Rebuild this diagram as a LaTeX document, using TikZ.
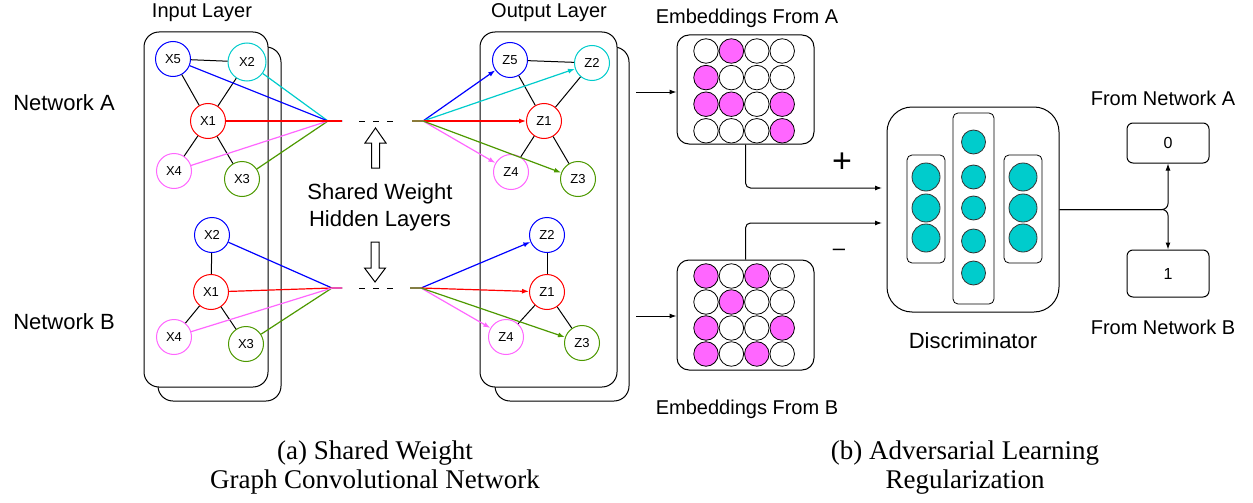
\documentclass[tikz,border=0pt]{standalone}
\usepackage{fontspec}
\setmainfont{Liberation Sans}
\newfontfamily\capfont{Liberation Serif}
\usepackage{xcolor}
\usepackage{tikz}
\usetikzlibrary{arrows.meta,positioning}

\definecolor{cblue}{HTML}{0000FF}
\definecolor{ccyan}{HTML}{00CCCC}
\definecolor{cred}{HTML}{FF0000}
\definecolor{cpink}{HTML}{FF66FF}
\definecolor{cgreen}{HTML}{4D9900}
\definecolor{cteal}{HTML}{00CCCC}

\begin{document}
\begin{tikzpicture}[x=1pt,y=-1pt,line width=1pt,>={Latex[length=7pt,width=5pt]},
  vert/.style={circle,draw,minimum size=35pt,inner sep=0pt,fill=white,font=\fontsize{13}{13}\selectfont},
  layerbox/.style={draw,rounded corners=15pt,fill=white,inner sep=0pt},
  embbox/.style={draw,rounded corners=12pt,fill=white,inner sep=0pt},
  emb/.style={circle,draw,minimum size=24.5pt,inner sep=0pt,line width=0.8pt},
  unit/.style={circle,draw=black!80,fill=cteal,inner sep=0pt,line width=0.8pt},
  colbox/.style={draw,rounded corners=5pt,inner sep=0pt,line width=0.8pt},
  valbox/.style={draw,rounded corners=6pt,inner sep=0pt,minimum width=82pt,font=\fontsize{16}{16}\selectfont},
  wire/.style={line width=1.2pt},
  lbl/.style={font=\fontsize{20}{24}\selectfont},
  big/.style={font=\fontsize{22}{27}\selectfont},
  captext/.style={align=center,font=\capfont\fontsize{27}{29}\selectfont}]
\useasboundingbox (0,0) rectangle (1253,503);

% input and output layers
\node[layerbox,minimum width=123pt,minimum height=354pt] (inback) at (219.5,224) {};
\node[layerbox,minimum width=124pt,minimum height=355pt] (infront) at (206,209.5) {};
\node[layerbox,minimum width=134pt,minimum height=354pt] (outback) at (562,224) {};
\node[layerbox,minimum width=137pt,minimum height=355pt] (outfront) at (548.5,209.5) {};

\node[lbl] (inlbl) at (202,13) {Input Layer};
\node[lbl] (outlbl) at (549,13) {Output Layer};
\node[big] (neta) at (64,103) {Network A};
\node[big] (netb) at (64,322) {Network B};

% network A
\node[vert,draw=cblue] (xa5) at (173,59) {X5};
\node[vert,draw=ccyan,minimum size=38pt] (xa2) at (247,62) {X2};
\node[vert,draw=cred] (xa1) at (208,121) {X1};
\node[vert,draw=cpink] (xa4) at (174,171) {X4};
\node[vert,draw=cgreen] (xa3) at (242,179) {X3};

\node[vert,draw=cblue] (za5) at (510,60) {Z5};
\node[vert,draw=ccyan] (za2) at (592,63) {Z2};
\node[vert,draw=cred] (za1) at (544,121) {Z1};
\node[vert,draw=cpink] (za4) at (511,172) {Z4};
\node[vert,draw=cgreen] (za3) at (578,179) {Z3};

% network B
\node[vert,draw=cblue] (xb2) at (212,235) {X2};
\node[vert,draw=cred] (xb1) at (211,292) {X1};
\node[vert,draw=cpink] (xb4) at (174,337) {X4};
\node[vert,draw=cgreen] (xb3) at (246,344) {X3};

\node[vert,draw=cblue] (zb2) at (547,235) {Z2};
\node[vert,draw=cred] (zb1) at (547,292) {Z1};
\node[vert,draw=cpink] (zb4) at (506,337) {Z4};
\node[vert,draw=cgreen] (zb3) at (582,343) {Z3};

\path (xa5) edge (xa2);
\path (xa5) edge (xa1);
\path (xa2) edge (xa1);
\path (xa1) edge (xa4);
\path (xa1) edge (xa3);
\path (za5) edge (za2);
\path (za5) edge (za1);
\path (za2) edge (za1);
\path (za1) edge (za4);
\path (za1) edge (za3);
\path (xb2) edge (xb1);
\path (xb1) edge (xb4);
\path (xb1) edge (xb3);
\path (zb2) edge (zb1);
\path (zb1) edge (zb4);
\path (zb1) edge (zb3);

% hidden layers
\coordinate (fa) at (328,121);
\coordinate (fa2) at (342,121);
\coordinate (ga) at (412,121);
\coordinate (ga2) at (423,121);
\coordinate (fb) at (332,288);
\coordinate (fb2) at (342,288);
\coordinate (gb) at (410,288);
\coordinate (gb2) at (421,288);

\draw[wire,ccyan] (xa2) -- (fa) -- (fa2);
\draw[wire,cblue] (xa5) -- (fa) -- (fa2);
\draw[wire,cgreen] (xa3) -- (fa) -- (fa2);
\draw[wire,cpink] (xa4) -- (fa) -- (fa2);
\draw[wire,cred] (xa1) -- (fa) -- (fa2);
\draw[wire,cblue] (xb2) -- (fb) -- (fb2);
\draw[wire,cgreen] (xb3) -- (fb) -- (fb2);
\draw[wire,cred] (xb1) -- (fb) -- (fb2);
\draw[wire,cpink] (xb4) -- (fb) -- (fb2);

\draw[wire,->,cblue] (ga) -- (ga2) -- (za5);
\draw[wire,->,ccyan] (ga) -- (ga2) -- (za2);
\draw[wire,->,cred] (ga) -- (ga2) -- (za1);
\draw[wire,->,cpink] (ga) -- (ga2) -- (za4);
\draw[wire,->,cgreen] (ga) -- (ga2) -- (za3);
\draw[wire,->,cblue] (gb) -- (gb2) -- (zb2);
\draw[wire,->,cred] (gb) -- (gb2) -- (zb1);
\draw[wire,->,cpink] (gb) -- (gb2) -- (zb4);
\draw[wire,->,cgreen] (gb) -- (gb2) -- (zb3);

\draw[dash pattern=on 6pt off 8pt] (359,121) -- (393,121);
\draw[dash pattern=on 6pt off 8pt] (359,288) -- (393,288);

\draw[fill=white] (375.5,128) -- ++(10.5,15) -- ++(-6.5,0) -- ++(0,25) -- ++(-8,0) -- ++(0,-25) -- ++(-6.5,0) -- cycle;
\draw[fill=white] (375,282) -- ++(10.5,-14) -- ++(-6.5,0) -- ++(0,-26) -- ++(-8,0) -- ++(0,26) -- ++(-6.5,0) -- cycle;

\node[big,align=center] (shared) at (380,207) {Shared Weight\\Hidden Layers};

% embeddings
\node[embbox,minimum width=137pt,minimum height=109pt] (emba) at (745.5,89.5) {};
\node[embbox,minimum width=137pt,minimum height=110pt] (embb) at (745.5,315) {};
\foreach \f [count=\i from 0] in {white,cpink,white,white,cpink,white,white,white,cpink,cpink,white,cpink,white,white,white,cpink}
  \node[emb,fill=\f] (ea\i) at ({706+25.4*mod(\i,4)},{51+26.6*div(\i,4)}) {};
\foreach \f [count=\i from 0] in {cpink,white,cpink,white,white,cpink,white,white,cpink,white,white,cpink,cpink,white,cpink,white}
  \node[emb,fill=\f] (eb\i) at ({706+25.4*mod(\i,4)},{276+26*div(\i,4)}) {};
\node[lbl] (embalbl) at (747,18) {Embeddings From A};
\node[lbl] (embblbl) at (747,409) {Embeddings From B};

\coordinate (froma) at (636,92);
\coordinate (fromb) at (636,316);
\draw[->] (froma) -- (froma -| emba.west);
\draw[->] (fromb) -- (fromb -| embb.west);

% discriminator
\node[draw,rounded corners=25pt,minimum width=172pt,minimum height=205pt,inner sep=0pt] (disc) at (973,209.5) {};
\node[colbox,minimum width=38pt,minimum height=108pt] (coll) at (926,209) {};
\node[colbox,minimum width=41pt,minimum height=191pt] (colm) at (973.5,208.5) {};
\node[colbox,minimum width=38pt,minimum height=108pt] (colr) at (1023,209) {};
\foreach \y [count=\i] in {177,208,238} {
  \node[unit,minimum size=28pt] (ul\i) at (926,\y) {};
  \node[unit,minimum size=28pt] (ur\i) at (1023,\y) {};
}
\foreach \y [count=\i] in {142,177,208,241,273}
  \node[unit,minimum size=24pt] (um\i) at (973.5,\y) {};
\node[big] (disclbl) at (973,341) {Discriminator};

\coordinate (ina) at (882,188);
\coordinate (inb) at (882,223);
\draw[->,rounded corners=5pt] (emba.south) |- (ina);
\draw[->,rounded corners=5pt] (embb.north) |- (inb);
\node[font=\fontsize{34}{34}\selectfont] (plus) at (842,163) {+};
\node[big] (minus) at (839,252) {–};

% outputs
\node[valbox,minimum height=40pt] (o0) at (1168,143) {0};
\node[valbox,minimum height=47pt] (o1) at (1168,273.5) {1};
\draw[->,rounded corners=6pt] (disc.east) -| (o0.south);
\draw[->,rounded corners=6pt] (disc.east) -| (o1.north);
\node[lbl] (fromnla) at (1163,98) {From Network A};
\node[lbl] (fromnlb) at (1163,327) {From Network B};

% captions
\node[captext] (capa) at (375,468) {(a) Shared Weight\\Graph Convolutional Network};
\node[captext] (capb) at (965,468) {(b) Adversarial Learning\\Regularization};

\end{tikzpicture}
\end{document}
